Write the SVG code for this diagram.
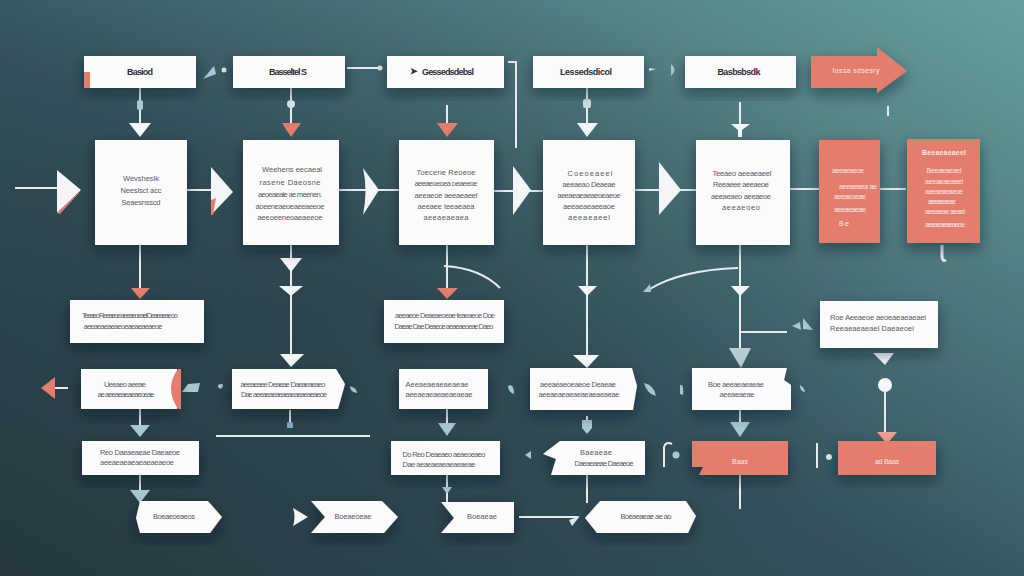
<svg xmlns="http://www.w3.org/2000/svg" width="1024" height="576" viewBox="0 0 1024 576">
<defs>
<linearGradient id="bg" x1="0" y1="1" x2="1" y2="0">
<stop offset="0" stop-color="#26373e"/>
<stop offset="0.45" stop-color="#34525c"/>
<stop offset="1" stop-color="#67a09f"/>
</linearGradient>
<radialGradient id="vig" cx="0.3" cy="0.55" r="0.6">
<stop offset="0" stop-color="#22343c" stop-opacity="0.35"/>
<stop offset="1" stop-color="#22343c" stop-opacity="0"/>
</radialGradient>
<filter id="sh" x="-30%" y="-30%" width="160%" height="170%">
<feDropShadow dx="0" dy="6" stdDeviation="7" flood-color="#0c1a20" flood-opacity="0.45"/>
</filter>
<style>
.box{fill:#fbfbfb;filter:url(#sh)}
.sal{fill:#e47d6c;filter:url(#sh)}
.ln{stroke:#e6ecee;stroke-width:2;fill:none}
.tri{fill:#f3f5f6}
.st{fill:#e47d6c}
.lb{fill:#a6c8d0}
.t{font-family:"Liberation Sans",Arial,sans-serif;font-size:7.5px;fill:#575a66;text-anchor:middle}
.h{font-family:"Liberation Sans",Arial,sans-serif;font-size:9px;font-weight:bold;fill:#2d2f36;text-anchor:middle}
.w{font-family:"Liberation Sans",Arial,sans-serif;font-size:7px;fill:#fbe9e5;text-anchor:middle}
</style>
</defs>
<rect width="1024" height="576" fill="url(#bg)"/>
<rect width="1024" height="576" fill="url(#vig)"/>

<g id="connectors">
<!-- top row horizontal -->
<path class="lb" d="M203 79 L214 66 L216 74 Z"/>
<circle cx="224" cy="70" r="2.5" fill="#dfe6e8"/>
<line class="ln" x1="347" y1="68" x2="378" y2="68"/>
<circle cx="380" cy="68" r="2.5" fill="#dfe6e8"/>
<path class="ln" d="M508 62 L516 62 L516 148"/>
<path fill="#dfe6e8" d="M649 68 L656 69 L649 71 Z"/>
<path class="lb" d="M671 64 Q678 70 671 76 Z"/>
<!-- top boxes down -->
<line class="ln" x1="140" y1="88" x2="140" y2="124"/>
<rect x="137" y="100" width="6" height="10" rx="2" fill="#a6c8d0"/>
<path class="tri" d="M129 123 L151 123 L140 137 Z"/>
<line class="ln" x1="291" y1="88" x2="291" y2="123"/>
<circle cx="291" cy="104" r="4" fill="#cfe0e4"/>
<path class="st" d="M282 123 L301 123 L291 137 Z"/>
<line class="ln" x1="447" y1="105" x2="447" y2="123"/>
<path class="st" d="M437 123 L458 123 L447 137 Z"/>
<line class="ln" x1="587" y1="88" x2="587" y2="123"/>
<rect x="583" y="99" width="8" height="9" rx="2" fill="#c9dadd"/>
<path class="tri" d="M577 123 L598 123 L587 137 Z"/>
<line class="ln" x1="740" y1="102" x2="740" y2="126"/>
<path class="tri" d="M731 124 L750 124 L742 130 L742 137 L738 137 L738 130 Z"/>
<line class="ln" x1="888" y1="106" x2="888" y2="116"/>
<!-- row 2 horizontal -->
<line class="ln" x1="15" y1="188" x2="60" y2="188"/>
<path class="tri" d="M57 170 L81 190 L57 213 Z"/>
<path class="st" d="M57 213 L81 190 L78 194 L60 214 Z"/>
<line class="ln" x1="187" y1="190" x2="212" y2="190"/>
<path class="tri" d="M211 167 L233 192 L211 215 Z"/>
<path class="st" d="M211 200 L216 198 L213 215 L211 215 Z"/>
<line class="ln" x1="339" y1="190" x2="399" y2="190"/>
<path class="tri" d="M363 168 L379 190 L363 215 Q368 190 363 168 Z"/>
<line class="ln" x1="494" y1="191" x2="543" y2="191"/>
<path class="tri" d="M513 166 L531 190 L513 215 Z"/>
<line class="ln" x1="635" y1="190" x2="696" y2="190"/>
<path class="tri" d="M659 162 L681 190 L659 215 Z"/>
<line class="ln" x1="790" y1="189" x2="830" y2="189"/>
<line class="ln" x1="880" y1="189" x2="906" y2="189"/>
<path d="M942 245 L942 256 Q942 262 946 260" stroke="#e6ecee" stroke-width="3" fill="none"/>
<!-- row 2 down -->
<line class="ln" x1="140" y1="245" x2="140" y2="290"/>
<path class="st" d="M131 288 L150 288 L140 299 Z"/>
<line class="ln" x1="291" y1="245" x2="291" y2="357"/>
<path class="tri" d="M280 258 L302 258 L291 272 Z"/>
<path class="tri" d="M279 286 L303 286 L291 296 Z"/>
<path class="tri" d="M280 354 L304 354 L291 367 Z"/>
<line class="ln" x1="447" y1="245" x2="447" y2="290"/>
<path class="ln" d="M444 266 Q480 268 500 288"/>
<path class="st" d="M437 288 L458 288 L447 299 Z"/>
<line class="ln" x1="587" y1="245" x2="587" y2="357"/>
<path class="tri" d="M578 286 L597 286 L587 296 Z"/>
<path class="tri" d="M573 355 L599 355 L587 368 Z"/>
<line class="ln" x1="740" y1="245" x2="740" y2="357"/>
<path class="ln" d="M738 268 Q680 270 648 290"/>
<path class="lb" d="M643 292 L650 284 L651 292 Z"/>
<line class="ln" x1="740" y1="332" x2="787" y2="332"/>
<path class="tri" d="M731 286 L750 286 L740 296 Z"/>
<path fill="#b8ccd2" d="M729 348 L751 348 L741 368 Z"/>
<path class="lb" d="M792 326 L800 322 L801 330 Z"/>
<path class="lb" d="M803 318 L813 330 L803 329 Z"/>
<!-- right column -->
<path class="tri" d="M873 353 L894 353 L885 365 Z"/>
<circle cx="885" cy="385" r="7" fill="#f6f8f9"/>
<line class="ln" x1="885" y1="392" x2="885" y2="433"/>
<path fill="#f0a090" d="M877 432 L897 432 L887 444 Z"/>
<!-- row 4 left -->
<line class="ln" x1="55" y1="388" x2="68" y2="388"/>
<path class="st" d="M41 388 L55 377 L55 399 Z"/>
<path class="lb" d="M182 392 L188 384 L200 383 L198 392 Z"/>
<path class="lb" d="M218 385 Q225 382 222 388 Q218 390 218 385 Z"/>
<line class="ln" x1="290" y1="410" x2="290" y2="425"/>
<rect x="287" y="422" width="6" height="6" rx="1" fill="#7aa7c2"/>
<line class="ln" x1="216" y1="436" x2="370" y2="436"/>
<path class="lb" d="M350 386 Q357 388 357 393 Q350 392 350 386 Z"/>
<path class="lb" d="M508 386 Q514 383 514 394 Q508 392 508 386 Z"/>
<path class="lb" d="M644 383 Q654 385 656 396 Q647 394 644 383 Z"/>
<path class="lb" d="M680 385 Q684 383 683 395 L680 394 Z"/>
<path class="lb" d="M800 385 Q804 387 805 392 Q800 392 800 385 Z"/>
<!-- row 4 down -->
<line class="ln" x1="140" y1="409" x2="140" y2="427"/>
<path class="lb" d="M130 425 L150 425 L140 437 Z"/>
<line class="ln" x1="447" y1="409" x2="447" y2="425"/>
<path class="lb" d="M438 423 L456 423 L447 436 Z"/>
<line class="ln" x1="587" y1="416" x2="587" y2="426"/>
<path class="lb" d="M582 420 L592 420 L592 428 L587 434 L582 428 Z"/>
<line class="ln" x1="740" y1="410" x2="740" y2="424"/>
<path class="lb" d="M730 422 L750 422 L740 437 Z"/>
<!-- row 5 side marks -->
<path class="lb" d="M525 455 L531 451 L531 459 Z"/>
<path class="ln" d="M664 467 L664 447 Q666 441 672 444"/>
<circle cx="676" cy="455" r="3.5" fill="#a6c8d0"/>
<line class="ln" x1="817" y1="443" x2="817" y2="468"/>
<circle cx="829" cy="457" r="3" fill="#dfe6e8"/>
<!-- row 5 down -->
<line class="ln" x1="140" y1="475" x2="140" y2="492"/>
<path class="lb" d="M130 490 L150 490 L140 503 Z"/>
<line class="ln" x1="447" y1="475" x2="447" y2="502"/>
<path class="lb" d="M442 487 L452 487 L447 494 Z"/>
<line class="ln" x1="587" y1="475" x2="587" y2="503"/>
<line class="ln" x1="740" y1="475" x2="740" y2="509"/>
<!-- row 6 -->
<path class="tri" d="M293 508 L308 517 L293 526 Q296 517 293 508 Z"/>
<line class="ln" x1="519" y1="517" x2="578" y2="517"/>
<path fill="#dfe6e8" d="M569 520 L580 516 L572 526 Z"/>
</g>

<!-- top row -->
<g id="n_top1"><rect class="box" x="84" y="56" width="112" height="32"/><rect x="84" y="72" width="6" height="16" fill="#e47d6c"/><text class="h" x="140" y="75" textLength="26">Basiod</text></g>
<g id="n_top2"><rect class="box" x="233" y="56" width="112" height="32"/><text class="h" x="288" y="75" textLength="38">Basseltel S</text></g>
<g id="n_top3"><rect class="box" x="387" y="56" width="117" height="32"/><text class="h" x="414" y="74" font-size="7">➤</text><text class="h" x="448" y="75" textLength="52">Gessedsdebsl</text></g>
<g id="n_top4"><rect class="box" x="533" y="56" width="111" height="32"/><text class="h" x="586" y="75" textLength="52">Lessedsdicol</text></g>
<g id="n_top5"><rect class="box" x="685" y="56" width="111" height="32"/><text class="h" x="739" y="75" textLength="43">Basbsbsdk</text></g>
<g id="n_top6"><path class="sal" d="M811 56 L877 56 L877 47 L907 71 L877 93 L877 88 L811 88 Z"/><text class="w" x="856" y="73" textLength="47">Iossa sdsesry</text></g>

<!-- row 2 -->
<g id="n_r2a"><rect class="box" x="95" y="140" width="92" height="105"/>
<text class="t" x="141" y="181" textLength="36">Wevsheslk</text>
<text class="t" x="141" y="193" textLength="41">Neeslsct acc</text>
<text class="t" x="141" y="205" textLength="39">Seaesnsscd</text></g>
<g id="n_r2b"><rect class="box" x="243" y="140" width="96" height="105"/>
<text class="t" x="292" y="172" textLength="60">Weehens eecaeal</text>
<text class="t" x="290" y="185" textLength="61">rasene  Daeosne</text>
<text class="t" x="290" y="197" textLength="64">aeoeaeale ae meenen.</text>
<text class="t" x="290" y="209" textLength="69">aoeeneaeoeaeeaeeoe</text>
<text class="t" x="290" y="220" textLength="65">aeeoeeneoaeaeeoe</text></g>
<g id="n_r2c"><rect class="box" x="399" y="140" width="95" height="105"/>
<text class="t" x="446" y="175" textLength="59">Toecene  Reoeoe</text>
<text class="t" x="446" y="186" textLength="63">aeeaeoeoea oeaeeoe</text>
<text class="t" x="446" y="198" textLength="63">aeeaeoe aeeaeaeel</text>
<text class="t" x="446" y="209" textLength="57">aeeaee teeaeaea</text>
<text class="t" x="446" y="220" textLength="45">aeeaeaeaea</text></g>
<g id="n_r2d"><rect class="box" x="543" y="140" width="92" height="105"/>
<text class="t" x="590" y="176" textLength="45">Coeoeaeel</text>
<text class="t" x="589" y="187" textLength="53">aeeaeao Deaeae</text>
<text class="t" x="589" y="198" textLength="63">aeeaeaeaeaeoeaeoe</text>
<text class="t" x="589" y="209" textLength="52">aeeaeaeaeeaoe</text>
<text class="t" x="589" y="220" textLength="42">aeeaeaeel</text></g>
<g id="n_r2e"><rect class="box" x="696" y="140" width="94" height="105"/>
<text class="t" x="742" y="176" textLength="59">Teeaeo aeeaeaeel</text>
<text class="t" x="741" y="187" textLength="56">Reeaeee aeeaeoe</text>
<text class="t" x="741" y="199" textLength="60">aeeaeaeo aeeaeoe</text>
<text class="t" x="741" y="210" textLength="38">aeeaeoeo</text></g>
<g id="n_r2f"><rect class="sal" x="819" y="140" width="61" height="103"/>
<text class="w" x="848" y="173" textLength="32">aeeaeaeoe</text>
<text class="w" x="858" y="189" textLength="38">aeeaeaea ae</text>
<text class="w" x="850" y="199" textLength="32">aeeaeoeae</text>
<text class="w" x="850" y="212" textLength="32">aeeaeaeae</text>
<text class="w" x="844" y="226" textLength="10">Be</text></g>
<g id="n_r2g"><rect class="sal" x="907" y="139" width="73" height="104"/>
<text class="w" x="944" y="155" textLength="44" font-weight="bold">Beeaeaeaeel</text>
<text class="w" x="944" y="173" textLength="35">Beeaeaeael</text>
<text class="w" x="944" y="184" textLength="38">aeeaeaeaeel</text>
<text class="w" x="944" y="194" textLength="38">aeeaeaeaeoe</text>
<text class="w" x="942" y="204" textLength="28">aeeaeaeae</text>
<text class="w" x="945" y="214" textLength="40">aeeaeae aeael</text>
<text class="w" x="945" y="227" textLength="40">aeeaeaeaeaeoe</text></g>

<!-- row 3 -->
<g id="n_r3a"><rect class="box" x="70" y="300" width="134" height="43"/>
<text class="t" x="130" y="318" textLength="96">Teeaeo Reeaeoe aeeaeoeael Deaeaeae oo</text>
<text class="t" x="123" y="329" textLength="79">aeeaeaeaeaeoeaeaeaeaeoe</text></g>
<g id="n_r3b"><rect class="box" x="384" y="300" width="120" height="43"/>
<text class="t" x="445" y="318" textLength="100">aeeaeoe Deaeaeoeae teaeaeoe Doe</text>
<text class="t" x="444" y="329" textLength="99">Daeae Dae Deaeoe aeaeaeoeae Daeo</text></g>
<g id="n_r3c"><rect class="box" x="820" y="301" width="118" height="47"/>
<text class="t" x="878" y="320" textLength="96">Roe  Aeeaeoe aeoeaeaeaeael</text>
<text class="t" x="872" y="331" textLength="84">Reeaeaeaeael Daeaeoel</text></g>

<!-- row 4 -->
<g id="n_r4a"><path class="box" d="M81 369 L177 369 L177 409 L81 409 Z"/><path class="st" d="M178 369 Q164 388 178 409 L181 409 L181 369 Z"/>
<text class="t" x="125" y="387" textLength="42">Ueeaeo aeeae</text>
<text class="t" x="126" y="397" textLength="57">ae aeeaeaeaeaeoeae</text></g>
<g id="n_r4b"><path class="box" d="M232 369 L336 369 L345 384 L338 409 L232 409 Z"/>
<text class="t" x="283" y="387" textLength="85">aeeaeaee Deaeae Daeaeaeaeo</text>
<text class="t" x="284" y="397" textLength="86">Dae aeeaeaeaeaeaeaeaeaeaeoe</text></g>
<g id="n_r4c"><rect class="box" x="399" y="369" width="89" height="40"/>
<text class="t" x="437" y="387" textLength="63">Aeeaeaeaeaeaeae</text>
<text class="t" x="439" y="397" textLength="67">aeeaeaeaeaeaeaeae</text></g>
<g id="n_r4d"><path class="box" d="M530 368 L632 368 L637 386 L633 410 L530 410 Z"/>
<text class="t" x="578" y="387" textLength="76">aeeaeaeoeaeoe Deaeae</text>
<text class="t" x="579" y="397" textLength="81">aeeaeaeaeaeaeaeaeaeae</text></g>
<g id="n_r4e"><path class="box" d="M692 368 L787 368 L784 380 L791 385 L791 410 L692 410 Z"/>
<text class="t" x="736" y="387" textLength="56">Boe aeeaeaeaeae</text>
<text class="t" x="737" y="397" textLength="35">aeeaeaeae</text></g>

<!-- row 5 -->
<g id="n_r5a"><rect class="box" x="82" y="441" width="117" height="34"/>
<text class="t" x="140" y="455" textLength="80">Reo Daeaeaeae Daeaeoe</text>
<text class="t" x="137" y="465" textLength="74">aeeaeaeaeaeaeaeaeoe</text></g>
<g id="n_r5b"><rect class="box" x="391" y="441" width="109" height="34"/>
<text class="t" x="444" y="457" textLength="83">Do Reo Deaeaeo aeaeoeaeo</text>
<text class="t" x="439" y="467" textLength="73">Dae aeaeaeaeaeaeaeae</text></g>
<g id="n_r5c"><path class="box" d="M560 441 L645 441 L645 475 L551 475 L556 459 L543 454 Z"/>
<text class="t" x="596" y="455" textLength="32">Baeaeae</text>
<text class="t" x="604" y="466" textLength="59">Daeaeaeae Daeaeoe</text></g>
<g id="n_r5d"><path class="sal" d="M692 441 L788 441 L788 475 L699 475 L703 467 L692 467 Z"/><text class="w" x="740" y="464" textLength="16">Baas</text></g>
<g id="n_r5e"><rect class="sal" x="838" y="441" width="98" height="34"/><text class="w" x="887" y="464" textLength="24">ad Baas</text></g>

<!-- row 6 -->
<g id="n_r6a"><path class="box" d="M140 501 L208 501 L222 517 L210 533 L140 533 L136 518 Z"/><text class="t" x="174" y="519" textLength="42">Boeaeoeaeos</text></g>
<g id="n_r6b"><path class="box" d="M311 501 L382 501 L398 517 L384 533 L311 533 L325 517 Z"/><text class="t" x="353" y="519" textLength="37">Boeaeoeae</text></g>
<g id="n_r6c"><path class="box" d="M441 502 L514 502 L514 533 L441 533 L454 518 Z"/><text class="t" x="482" y="519" textLength="30">Boeaeae</text></g>
<g id="n_r6d"><path class="box" d="M600 501 L686 501 L696 516 L688 533 L597 533 L585 518 Z"/><text class="t" x="646" y="519" textLength="51">Boeaeaeae ae ao</text></g>
</svg>
